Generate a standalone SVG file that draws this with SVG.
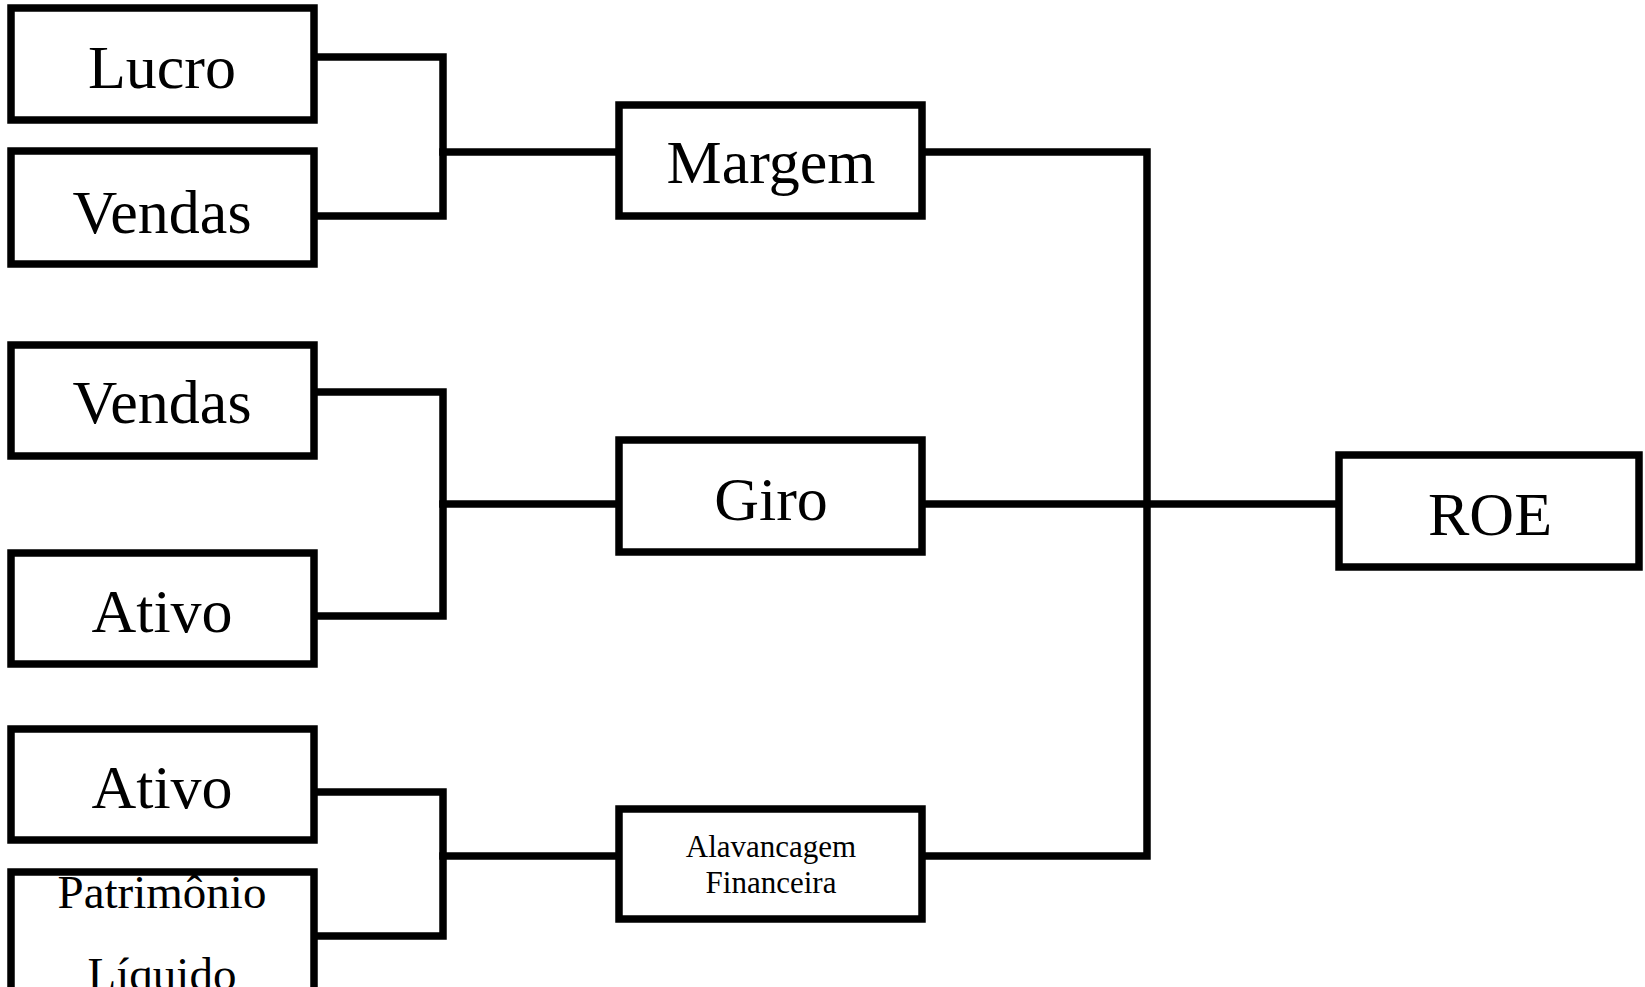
<svg xmlns="http://www.w3.org/2000/svg" width="1645" height="987" viewBox="0 0 1645 987">
<style>
.box{fill:#fff;stroke:#000;stroke-width:7.5}
.t{font-family:"Liberation Serif","Times New Roman",serif;fill:#000;text-anchor:middle}
.big{font-size:62px}
.mid{font-size:47px}
.sm{font-size:31px}
.c{fill:none;stroke:#000;stroke-width:7.5;stroke-linejoin:miter;stroke-linecap:square}
</style>
<rect width="1645" height="987" fill="#fff"/>
<g id="connectors">
<path class="c" d="M318 57 H443 V216 H318"/>
<path class="c" d="M443 152 H616"/>
<path class="c" d="M318 392 H443 V616 H318"/>
<path class="c" d="M443 504 H616"/>
<path class="c" d="M318 792 H443 V936 H318"/>
<path class="c" d="M443 856 H616"/>
<path class="c" d="M926 152 H1147 V856 H926"/>
<path class="c" d="M926 504 H1336"/>
</g>
<g id="lucro"><rect class="box" x="11" y="8" width="303" height="112"/><text class="t big" x="162" y="88">Lucro</text></g>
<g id="vendas1"><rect class="box" x="11" y="151" width="303" height="113"/><text class="t big" x="162" y="233">Vendas</text></g>
<g id="vendas2"><rect class="box" x="11" y="345" width="303" height="111"/><text class="t big" x="162" y="423">Vendas</text></g>
<g id="ativo1"><rect class="box" x="11" y="553" width="303" height="111"/><text class="t big" x="162" y="632">Ativo</text></g>
<g id="ativo2"><rect class="box" x="11" y="729" width="303" height="111"/><text class="t big" x="162" y="808">Ativo</text></g>
<g id="patrimonio"><rect class="box" x="11" y="872" width="303" height="130"/><text class="t mid" x="162" y="908">Patrimônio</text><text class="t mid" x="162" y="990">Líquido</text></g>
<g id="margem"><rect class="box" x="619" y="105" width="303" height="111"/><text class="t big" x="771" y="183">Margem</text></g>
<g id="giro"><rect class="box" x="619" y="440" width="303" height="112"/><text class="t big" x="771" y="520">Giro</text></g>
<g id="alavancagem"><rect class="box" x="619" y="809" width="303" height="110"/><text class="t sm" x="771" y="857">Alavancagem</text><text class="t sm" x="771" y="893">Financeira</text></g>
<g id="roe"><rect class="box" x="1339" y="455" width="300" height="112"/><text class="t big" x="1490" y="535">ROE</text></g>
</svg>
